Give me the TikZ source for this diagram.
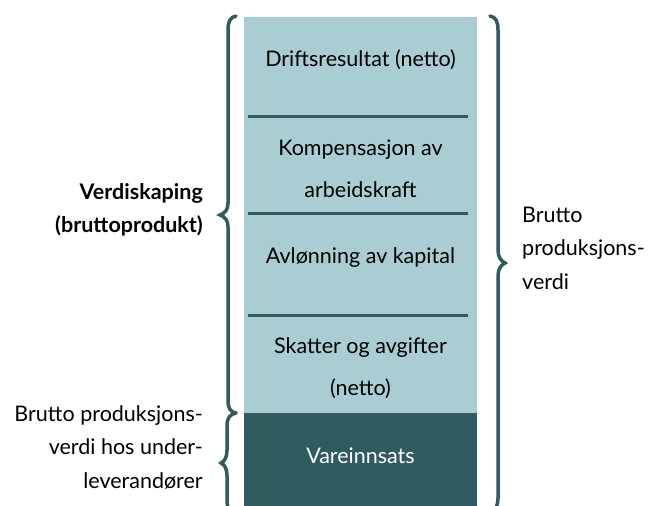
\documentclass[tikz,border=0pt]{standalone}
\usepackage{fontspec}
\setmainfont{Lato}
\definecolor{lightteal}{HTML}{AACDD3}
\definecolor{darkteal}{HTML}{305B61}
\begin{document}
\begin{tikzpicture}[x=1pt,y=-1pt,
  brace/.style={draw=darkteal,line width=3.5pt,line cap=round},
  sep/.style={draw=darkteal,line width=3pt},
  txt/.style={font=\fontsize{21.5}{42}\selectfont,text=black,inner sep=0pt,align=center},
  side/.style={font=\fontsize{21.5}{33.5}\selectfont,text=black,inner sep=0pt}]
\useasboundingbox (0,0) rectangle (648,506);
\fill[lightteal] (244,17) rectangle (477,413);
\fill[darkteal] (244,413) rectangle (477,506);
\coordinate (l1a) at (248,116); \coordinate (l1b) at (468,116);
\coordinate (l2a) at (248,213); \coordinate (l2b) at (468,213);
\coordinate (l3a) at (248,315); \coordinate (l3b) at (468,315);
\draw[sep] (l1a) -- (l1b);
\draw[sep] (l2a) -- (l2b);
\draw[sep] (l3a) -- (l3b);
\node[txt] (drift) at (360.5,60) {Driftsresultat (netto)};
\node[txt] (komp) at (360.5,168.5) {Kompensasjon av\\arbeidskraft};
\node[txt] (avl) at (360.5,258) {Avlønning av kapital};
\node[txt] (skatt) at (360.5,368.5) {Skatter og avgifter\\(netto)};
\node[txt,text=white] (vare) at (360.5,456) {Vareinnsats};
% big left brace
\draw[brace] (236,16) .. controls (230,17) and (228,22) .. (228,30) -- (228,203)
  .. controls (228,210) and (225,213) .. (220,215) .. controls (225,217) and (228,220) .. (228,227)
  -- (228,400) .. controls (228,408) and (230,412) .. (236,413);
% small left brace
\draw[brace] (236,413) .. controls (230,414) and (227,418) .. (227,426) -- (227,450)
  .. controls (227,457) and (225,461) .. (221,463) .. controls (225,465) and (227,469) .. (227,476)
  -- (227,500) .. controls (227,506) and (228,510) .. (232,512);
% right brace
\draw[brace] (490,16) .. controls (496,17) and (498,22) .. (498,30) -- (498,250)
  .. controls (498,257) and (501,261) .. (505,263) .. controls (501,265) and (498,269) .. (498,276)
  -- (498,498) .. controls (498,505) and (496,509) .. (492,512);
\node[side,font=\fontsize{21.5}{33.5}\selectfont\bfseries,align=right,anchor=east] (verdi) at (203,210) {Verdiskaping\\(bruttoprodukt)};
\node[side,align=right,anchor=east] (bpu) at (203,447) {Brutto produksjons-\\verdi hos under-\\leverandører};
\node[side,align=left,anchor=west] (bpv) at (522,248) {Brutto\\produksjons-\\verdi};
\end{tikzpicture}
\end{document}
